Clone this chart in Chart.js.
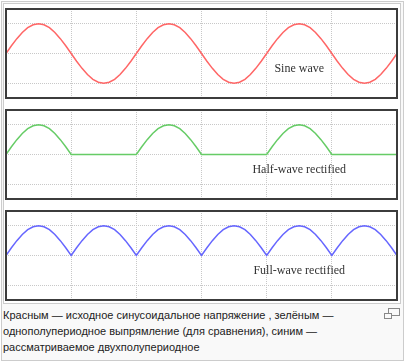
<!DOCTYPE html>
<html>
<head>
<meta charset="utf-8">
<script src="https://cdn.jsdelivr.net/npm/chart.js@4"></script>
<style>
  body { margin: 0; background: #fff; width: 407px; height: 363px; overflow: hidden; }
  #thumb { position: absolute; left: 1px; top: 1px; width: 401px; height: 358px; border: 1px solid #ccc; background: #f9f9f9; }
  #img { position: absolute; left: 3px; top: 3px; width: 396px; height: 299px; border: 1px solid #ccc; background: #fff; }
  canvas { position: absolute; left: 4px; }
  #caption { position: absolute; left: 3px; top: 307px; width: 378px; font: 11px "Liberation Sans", Arial, sans-serif; line-height: 16px; color: #222; }
  .mag1 { position: absolute; left: 388px; top: 308px; width: 10px; height: 6px; border: 1px solid #888; background: #f9f9f9; }
  .mag2 { position: absolute; left: 384px; top: 313px; width: 6px; height: 4px; border: 1px solid #888; background: #f9f9f9; }
</style>
</head>
<body>
<div id="thumb"></div>
<div id="img"></div>
<canvas id="sine" width="395" height="93" style="top:7px"></canvas>
<canvas id="half" width="395" height="93" style="top:108px"></canvas>
<canvas id="full" width="395" height="93" style="top:209px"></canvas>
<div id="caption">Красным&nbsp;— исходное синусоидальное напряжение , зелёным&nbsp;— однополупериодное выпрямление (для сравнения), синим&nbsp;— рассматриваемое двухполупериодное</div>
<div class="mag1"></div>
<div class="mag2"></div>
<script>
// phase in degrees, one sample every 15 degrees, three periods
var phase = [0, 15, 30, 45, 60, 75, 90, 105, 120, 135, 150, 165,
  180, 195, 210, 225, 240, 255, 270, 285, 300, 315, 330, 345,
  360, 375, 390, 405, 420, 435, 450, 465, 480, 495, 510, 525,
  540, 555, 570, 585, 600, 615, 630, 645, 660, 675, 690, 705,
  720, 735, 750, 765, 780, 795, 810, 825, 840, 855, 870, 885,
  900, 915, 930, 945, 960, 975, 990, 1005, 1020, 1035, 1050, 1065, 1080];

var sineWave = [0, 0.26, 0.5, 0.71, 0.87, 0.97, 1, 0.97, 0.87, 0.71, 0.5, 0.26,
  0, -0.26, -0.5, -0.71, -0.87, -0.97, -1, -0.97, -0.87, -0.71, -0.5, -0.26,
  0, 0.26, 0.5, 0.71, 0.87, 0.97, 1, 0.97, 0.87, 0.71, 0.5, 0.26,
  0, -0.26, -0.5, -0.71, -0.87, -0.97, -1, -0.97, -0.87, -0.71, -0.5, -0.26,
  0, 0.26, 0.5, 0.71, 0.87, 0.97, 1, 0.97, 0.87, 0.71, 0.5, 0.26,
  0, -0.26, -0.5, -0.71, -0.87, -0.97, -1, -0.97, -0.87, -0.71, -0.5, -0.26, 0];

var halfWave = [0, 0.26, 0.5, 0.71, 0.87, 0.97, 1, 0.97, 0.87, 0.71, 0.5, 0.26,
  0, 0, 0, 0, 0, 0, 0, 0, 0, 0, 0, 0,
  0, 0.26, 0.5, 0.71, 0.87, 0.97, 1, 0.97, 0.87, 0.71, 0.5, 0.26,
  0, 0, 0, 0, 0, 0, 0, 0, 0, 0, 0, 0,
  0, 0.26, 0.5, 0.71, 0.87, 0.97, 1, 0.97, 0.87, 0.71, 0.5, 0.26,
  0, 0, 0, 0, 0, 0, 0, 0, 0, 0, 0, 0, 0];

var fullWave = [0, 0.26, 0.5, 0.71, 0.87, 0.97, 1, 0.97, 0.87, 0.71, 0.5, 0.26,
  0, 0.26, 0.5, 0.71, 0.87, 0.97, 1, 0.97, 0.87, 0.71, 0.5, 0.26,
  0, 0.26, 0.5, 0.71, 0.87, 0.97, 1, 0.97, 0.87, 0.71, 0.5, 0.26,
  0, 0.26, 0.5, 0.71, 0.87, 0.97, 1, 0.97, 0.87, 0.71, 0.5, 0.26,
  0, 0.26, 0.5, 0.71, 0.87, 0.97, 1, 0.97, 0.87, 0.71, 0.5, 0.26,
  0, 0.26, 0.5, 0.71, 0.87, 0.97, 1, 0.97, 0.87, 0.71, 0.5, 0.26, 0];

var gridX = [0, 180, 360, 540, 720, 900, 1080];
var gridY = [-1, 0, 1];

// frame + label drawn on top of the plot
var framePlugin = {
  id: 'frame',
  afterDraw: function (chart) {
    var c = chart.ctx, a = chart.chartArea;
    var o = chart.options.plugins.frame;
    c.save();
    c.strokeStyle = '#3c3c3c';
    c.lineWidth = 2;
    c.strokeRect(a.left, a.top, a.right - a.left, a.bottom - a.top);
    c.fillStyle = '#333';
    c.font = '12px "Liberation Serif", "Times New Roman", serif';
    c.textAlign = 'center';
    c.textBaseline = 'middle';
    c.fillText(o.label, chart.scales.x.getPixelForValue(o.lx), chart.scales.y.getPixelForValue(o.ly));
    c.restore();
  }
};

function renderWave(id, values, color, label) {
  var ctx = document.getElementById(id).getContext('2d');
  var points = phase.map(function (p, i) { return { x: p, y: values[i] }; });
  return new Chart(ctx, {
    type: 'line',
    data: {
      datasets: [{
        data: points,
        borderColor: color,
        borderWidth: 1.5,
        pointRadius: 0,
        tension: 0,
        fill: false
      }]
    },
    options: {
      responsive: false,
      animation: false,
      devicePixelRatio: 1,
      layout: { padding: 2 },
      plugins: {
        legend: { display: false },
        tooltip: { enabled: false },
        frame: { label: label, lx: 810, ly: -0.52 }
      },
      scales: {
        x: {
          type: 'linear', min: 0, max: 1080,
          afterBuildTicks: function (s) { s.ticks = gridX.map(function (v) { return { value: v }; }); },
          ticks: { display: false },
          border: { display: false, dash: [1, 1] },
          grid: { color: '#c8c8c8', lineWidth: 1, drawTicks: false }
        },
        y: {
          min: -1.5, max: 1.5,
          afterBuildTicks: function (s) { s.ticks = gridY.map(function (v) { return { value: v }; }); },
          ticks: { display: false },
          border: { display: false, dash: [1, 1] },
          grid: { color: '#c8c8c8', lineWidth: 1, drawTicks: false }
        }
      }
    },
    plugins: [framePlugin]
  });
}

renderWave('sine', sineWave, '#ff6666', 'Sine wave');
renderWave('half', halfWave, '#66cc66', 'Half-wave rectified');
renderWave('full', fullWave, '#6666ff', 'Full-wave rectified');
</script>
</body>
</html>
